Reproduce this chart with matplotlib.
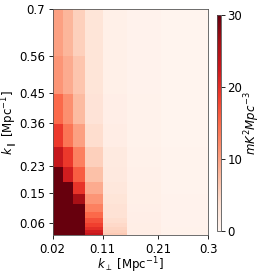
import numpy as np
import matplotlib
matplotlib.use("Agg")
import matplotlib.pyplot as plt

# bin edges
kperp_edges = [0.02, 0.039, 0.056, 0.078, 0.11, 0.154, 0.215, 0.3]
kpar_edges = [0.0246, 0.0308, 0.0385, 0.048, 0.060, 0.075, 0.094, 0.117,
              0.147, 0.183, 0.229, 0.287, 0.358, 0.448, 0.56, 0.7]
xticks = [0.02, 0.11, 0.21, 0.3]
xticklabels = ["0.02", "0.11", "0.21", "0.3"]
yticks = [0.06, 0.15, 0.23, 0.36, 0.45, 0.56, 0.7]
yticklabels = ["0.06", "0.15", "0.23", "0.36", "0.45", "0.56", "0.7"]
cbar_ticks = [0, 10, 20, 30]

# power values (rows bottom -> top, columns left -> right)
power = [
    [40, 40, 40, 23.0, 6.0, 1.5, 0.6],
    [40, 40, 40, 22.0, 5.5, 1.5, 0.6],
    [40, 40, 40, 20.0, 5.0, 1.4, 0.6],
    [40, 40, 40, 18.5, 4.5, 1.3, 0.5],
    [40, 40, 40, 17.0, 4.0, 1.2, 0.5],
    [40, 40, 40, 15.0, 3.5, 1.2, 0.5],
    [40, 40, 33, 13.0, 3.5, 1.1, 0.5],
    [40, 36, 26, 11.0, 3.0, 1.0, 0.5],
    [36, 31, 19.5, 9.0, 2.5, 1.0, 0.4],
    [31, 22, 16, 7.0, 2.2, 0.9, 0.4],
    [23, 19, 13, 5.5, 2.0, 0.8, 0.4],
    [19, 14, 10, 4.0, 1.5, 0.7, 0.3],
    [15, 11.5, 7.5, 3.2, 1.2, 0.6, 0.3],
    [11, 9, 6.5, 3.0, 1.0, 0.5, 0.3],
    [10, 8, 5.5, 3.0, 1.0, 0.5, 0.3],
]

fig = plt.figure(figsize=(2.62, 2.74), dpi=100)
ax = fig.add_axes([0.201, 0.142, 0.593, 0.824])
cax = fig.add_axes([0.829, 0.158, 0.013, 0.787])

mesh = ax.pcolormesh(kperp_edges, kpar_edges, np.array(power), cmap="Reds",
                     vmin=0, vmax=30, shading="flat")
ax.set_xlim(kperp_edges[0], kperp_edges[-1])
ax.set_ylim(kpar_edges[0], kpar_edges[-1])
ax.set_xticks(xticks)
ax.set_xticklabels(xticklabels)
ax.set_yticks(yticks)
ax.set_yticklabels(yticklabels)
ax.tick_params(labelsize=8.5, length=3, width=0.6, pad=2.5)
ax.set_xlabel(r"$k_\perp$ [Mpc$^{-1}$]", fontsize=8.5, labelpad=0)
ax.set_ylabel(r"$k_\parallel$ [Mpc$^{-1}$]", fontsize=8.5, labelpad=-1)
for s in ax.spines.values():
    s.set_linewidth(0.6)
    s.set_color("#555555")

cb = fig.colorbar(mesh, cax=cax, ticks=cbar_ticks)
cb.ax.tick_params(labelsize=8.5, length=3, width=0.6, pad=2)
cb.outline.set_linewidth(0.6)
cb.outline.set_edgecolor("#555555")
cb.set_label(r"$mK^2Mpc^{-3}$", fontsize=8.5, labelpad=0)

fig.savefig("out.png", dpi=100)
